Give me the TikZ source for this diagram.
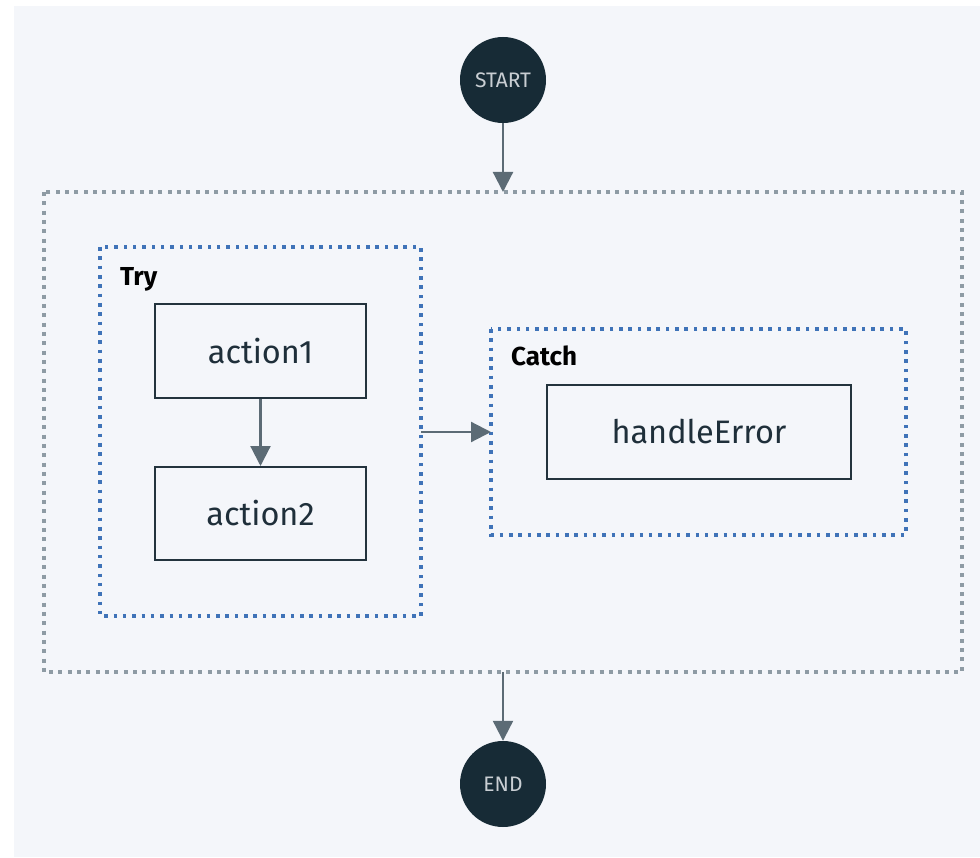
\documentclass[tikz,border=0pt]{standalone}
\usepackage{fontspec}
\setmainfont{Fira Sans}
\usetikzlibrary{arrows.meta}
\definecolor{canvas}{HTML}{F4F6FA}
\definecolor{termfill}{HTML}{172B36}
\definecolor{termtext}{HTML}{C9CED3}
\definecolor{boxline}{HTML}{23333D}
\definecolor{boxtext}{HTML}{1F2F3A}
\definecolor{flowline}{HTML}{5C6B75}
\definecolor{groupgray}{HTML}{8E9BA4}
\definecolor{groupblue}{HTML}{3F73B8}
\tikzset{
  terminal/.style={circle, fill=termfill, minimum size=86pt, inner sep=0pt,
    text=termtext, font=\fontsize{21}{25}\selectfont},
  actionbox/.style={draw=boxline, line width=2pt, fill=canvas, text=boxtext,
    font=\fontsize{32.5}{38}\selectfont, inner sep=0pt},
  outergroup/.style={draw=groupgray, line width=4pt, dash pattern=on 4pt off 5.33pt},
  blockgroup/.style={draw=groupblue, line width=3.6pt, dash pattern=on 3.6pt off 5.73pt},
  grouplabel/.style={anchor=base west, text=black, font=\bfseries\fontsize{26}{30}\selectfont, inner sep=0pt},
  flow/.style={draw=flowline, line width=2.2pt,
    -{Triangle[length=20pt, width=20pt]}}
}
\begin{document}
\begin{tikzpicture}[x=1pt, y=-1pt]
  \useasboundingbox (0,0) rectangle (980,858);
  \fill[canvas] (14,6) rectangle (980,857);

  % outer group and its two blocks
  \draw[outergroup] (44,192) rectangle (962,672);
  \node[coordinate] (outerTop) at (503,192) {};
  \node[coordinate] (outerBot) at (503,672) {};

  \draw[blockgroup] (100,247) rectangle (421,616);
  \node[grouplabel] (tryLabel) at (120,286) {Try};
  \node[coordinate] (tryRight) at (421,432) {};

  \draw[blockgroup] (491,329) rectangle (906,535);
  \node[grouplabel] (catchLabel) at (511,366) {Catch};
  \node[coordinate] (catchLeft) at (491,432) {};

  % terminals
  \node[terminal] (start) at (503,80) {START};
  \node[terminal] (end) at (503,784) {END};

  % actions
  \node[actionbox, minimum width=211pt, minimum height=94pt] (a1) at (260.5,351) {action1};
  \node[actionbox, minimum width=211pt, minimum height=93pt] (a2) at (260.5,513.5) {action2};
  \node[actionbox, minimum width=304pt, minimum height=94pt] (he) at (699,432) {handleError};

  % connectors
  \draw[flow] (start) -- (outerTop);
  \draw[flow] (a1) -- (a2);
  \draw[flow] (tryRight) -- (catchLeft);
  \draw[flow] (outerBot) -- (end);
\end{tikzpicture}
\end{document}
